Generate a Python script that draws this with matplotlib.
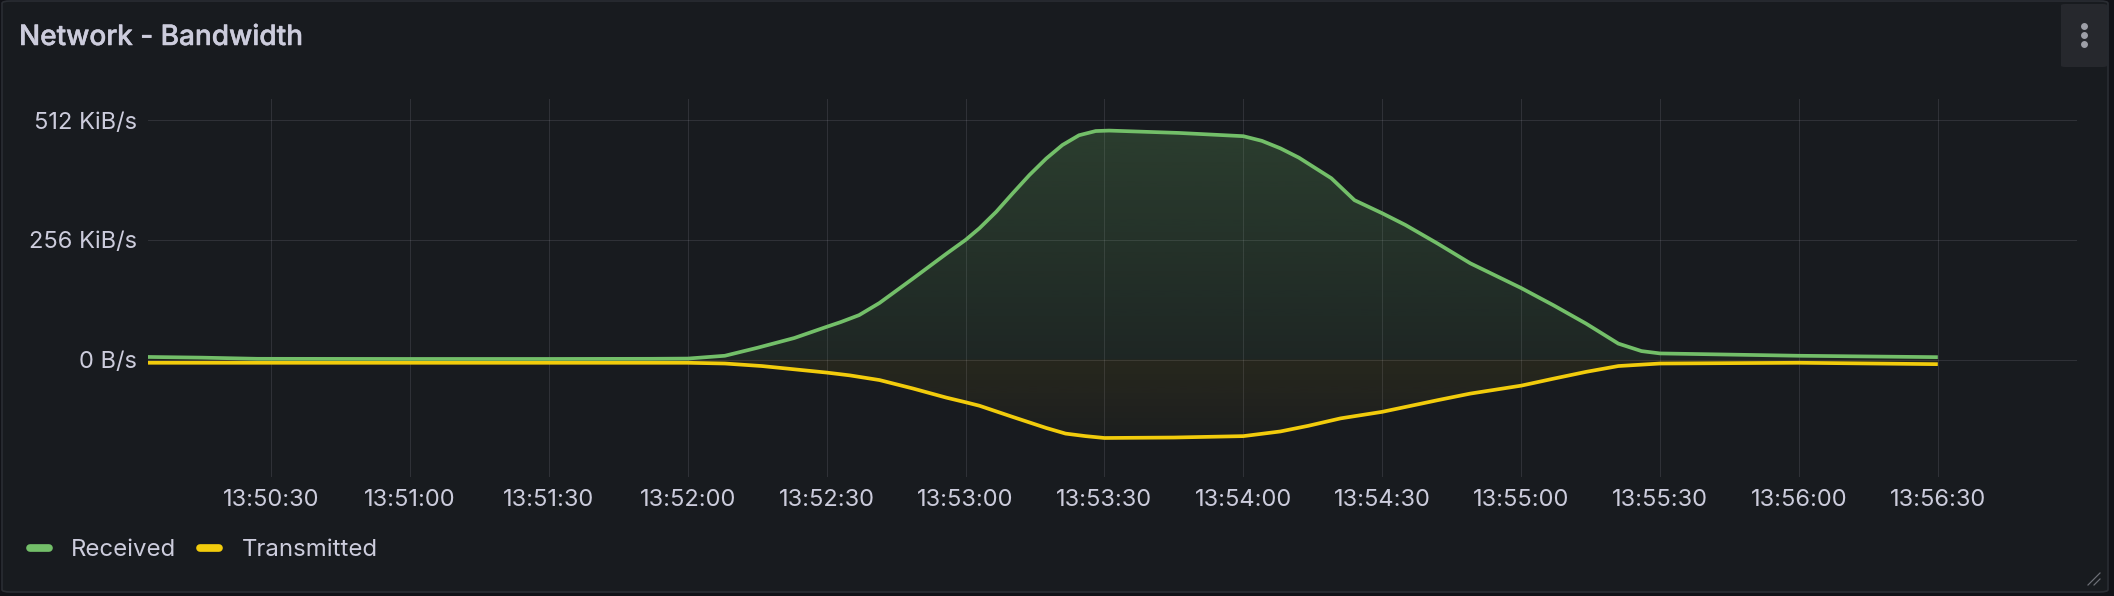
import numpy as np
import pandas as pd
import matplotlib
matplotlib.use("Agg")
import matplotlib.pyplot as plt
import matplotlib.dates as mdates
import matplotlib.patheffects as pe
from matplotlib.colors import to_rgb
from matplotlib.lines import Line2D
from matplotlib.patches import FancyBboxPatch

plt.rcParams['font.family'] = ['Inter', 'DejaVu Sans']

# ---------------- data (KiB/s) ----------------
rx_times = ["13:50:03", "13:50:15", "13:50:27", "13:51:00", "13:51:30", "13:51:52",
            "13:52:00", "13:52:08", "13:52:15", "13:52:23", "13:52:30", "13:52:33",
            "13:52:37", "13:52:41.4", "13:52:48.6", "13:52:55.8", "13:53:00", "13:53:03",
            "13:53:06.6", "13:53:10.2", "13:53:13.8", "13:53:17.4", "13:53:20.9", "13:53:24.5",
            "13:53:28.1", "13:53:31", "13:53:46", "13:54:00", "13:54:04", "13:54:08",
            "13:54:12", "13:54:19", "13:54:24", "13:54:30", "13:54:35", "13:54:42",
            "13:54:49", "13:55:00", "13:55:07", "13:55:14", "13:55:21", "13:55:26",
            "13:55:30", "13:56:00", "13:56:30"]
rx_values = [5.5, 4, 1.5, 1.2, 1.2, 1.5,
             2, 8, 25, 46, 70, 80,
             95, 121, 173, 226, 256, 281,
             316, 356, 395, 430, 459, 480,
             489, 490, 485, 478, 468, 452,
             432, 388, 341, 313, 288, 248,
             206, 153, 116, 77, 34, 18,
             13, 8, 5]

tx_times = ["13:50:03", "13:51:00", "13:52:00", "13:52:08", "13:52:16", "13:52:23",
            "13:52:30", "13:52:35", "13:52:41.4", "13:52:48.6", "13:52:55.8", "13:53:00",
            "13:53:03", "13:53:10.2", "13:53:17.4", "13:53:21.6", "13:53:25.9", "13:53:30",
            "13:53:45", "13:54:00", "13:54:08", "13:54:14", "13:54:21", "13:54:30",
            "13:54:42", "13:54:49", "13:55:00", "13:55:07", "13:55:14", "13:55:21",
            "13:55:30", "13:56:00", "13:56:30"]
tx_values = [-7, -7, -7, -8.6, -14, -21,
             -28, -34, -44, -62, -81.5, -91.5,
             -99, -123, -146.5, -158.6, -164, -168,
             -167, -164, -154, -142, -126, -112,
             -87, -73, -56, -41, -26.5, -14,
             -8.6, -7, -10]

series_names = ["Received", "Transmitted"]
series_colors = ["#73bf69", "#f2cc0c"]

x_ticks = ["13:50:30", "13:51:00", "13:51:30", "13:52:00", "13:52:30", "13:53:00",
           "13:53:30", "13:54:00", "13:54:30", "13:55:00", "13:55:30", "13:56:00",
           "13:56:30"]
y_ticks = [0, 256, 512]
y_tick_labels = ["0 B/s", "256 KiB/s", "512 KiB/s"]
x_range = ["13:50:03.400", "13:57:00.000"]
y_range = [-251.5, 557.6]

title = "Network - Bandwidth"

# ---------------- helpers ----------------
W, H = 2114, 596
DAY = "2024-01-01 "


def tnum(lst):
    return mdates.date2num(pd.to_datetime([DAY + s for s in lst], format="mixed"))


def fx(px):
    return px / W


def fy(py):
    return 1 - py / H


PX = 72 / 100  # points per pixel at dpi 100

BG = "#181b1f"
TEXT = "#ccccdc"

fig = plt.figure(figsize=(W / 100, H / 100), dpi=100)
fig.patch.set_facecolor("#111217")

panel = FancyBboxPatch((fx(2), fy(592)), fx(2108) - fx(2), fy(1) - fy(592),
                       boxstyle="round,pad=0,rounding_size=0.004",
                       transform=fig.transFigure, facecolor=BG,
                       edgecolor="#2a2d33", lw=1.2, zorder=-5)
fig.patches.append(panel)

ax = fig.add_axes([fx(148), fy(477), fx(2076.7) - fx(148), fy(99) - fy(477)])
ax.set_facecolor(BG)
ax.patch.set_alpha(0)

xr = tnum(rx_times)
xt = tnum(tx_times)
xlim = tnum(x_range)

ax.set_xlim(xlim)
ax.set_ylim(y_range)

# gradient fills
for xs, ys, col in [(xr, rx_values, series_colors[0]), (xt, tx_values, series_colors[1])]:
    poly = ax.fill_between(xs, ys, 0, color="none", lw=0)
    rgba = np.zeros((256, 1, 4))
    rgba[..., :3] = to_rgb(col)
    rgba[..., 3] = np.linspace(0.0, 0.23, 256)[:, None]
    im = ax.imshow(rgba, aspect="auto", origin="lower",
                   extent=[xlim[0], xlim[1], y_range[0], y_range[1]],
                   zorder=1, interpolation="bilinear")
    im.set_clip_path(poly.get_paths()[0], transform=ax.transData)

ax.plot(xt, tx_values, color=series_colors[1], lw=3.7 * PX, zorder=3,
        solid_joinstyle="round", solid_capstyle="butt")
ax.plot(xr, rx_values, color=series_colors[0], lw=3.7 * PX, zorder=3,
        solid_joinstyle="round", solid_capstyle="butt")

ax.set_xlim(xlim)
ax.set_ylim(y_range)

ax.set_xticks(tnum(x_ticks))
ax.xaxis.set_major_formatter(mdates.DateFormatter("%H:%M:%S"))
ax.set_yticks(y_ticks)
ax.set_yticklabels(y_tick_labels)

for s in ax.spines.values():
    s.set_visible(False)
ax.tick_params(axis="both", length=0, labelsize=17, labelcolor=TEXT)
ax.tick_params(axis="x", pad=8.5)
ax.tick_params(axis="y", pad=8.2)
ax.grid(True, color="#ccccdc", alpha=0.13, lw=1.0 * PX)
ax.set_axisbelow(True)

# title
fig.text(fx(19), fy(45), title, fontsize=28 * PX, color=TEXT, fontweight=500,
         va="baseline", ha="left",
         path_effects=[pe.withStroke(linewidth=0.35, foreground=TEXT)])

# menu button
btn = FancyBboxPatch((fx(2061), fy(67)), fx(2107) - fx(2061), fy(4) - fy(67),
                     boxstyle="round,pad=0,rounding_size=0.002",
                     transform=fig.transFigure, facecolor="#26282d",
                     edgecolor="none", zorder=2)
fig.patches.append(btn)
for yy in (25.7, 34.7, 44):
    fig.add_artist(Line2D([fx(2084)], [fy(yy)], marker="o", markersize=5.5 * PX,
                          color="#9ea0a8", transform=fig.transFigure, zorder=3))

# legend
leg = [(26, 53, 70.7), (196, 223, 241.7)]
for (x0, x1, tx), name, col in zip(leg, series_names, series_colors):
    fig.add_artist(Line2D([fx(x0 + 3.9), fx(x1 - 3.9)], [fy(547.5), fy(547.5)],
                          color=col, lw=7.7 * PX, solid_capstyle="round",
                          transform=fig.transFigure))
    fig.text(fx(tx), fy(556), name, fontsize=24 * PX, color=TEXT,
             va="baseline", ha="left")

# resize handle
for d in (6, 12):
    fig.add_artist(Line2D([fx(2100 - d), fx(2100)], [fy(585), fy(585 - d)],
                          color="#6e7077", lw=1.2 * PX, transform=fig.transFigure))

fig.savefig("out.png", dpi=100, facecolor=fig.get_facecolor())
